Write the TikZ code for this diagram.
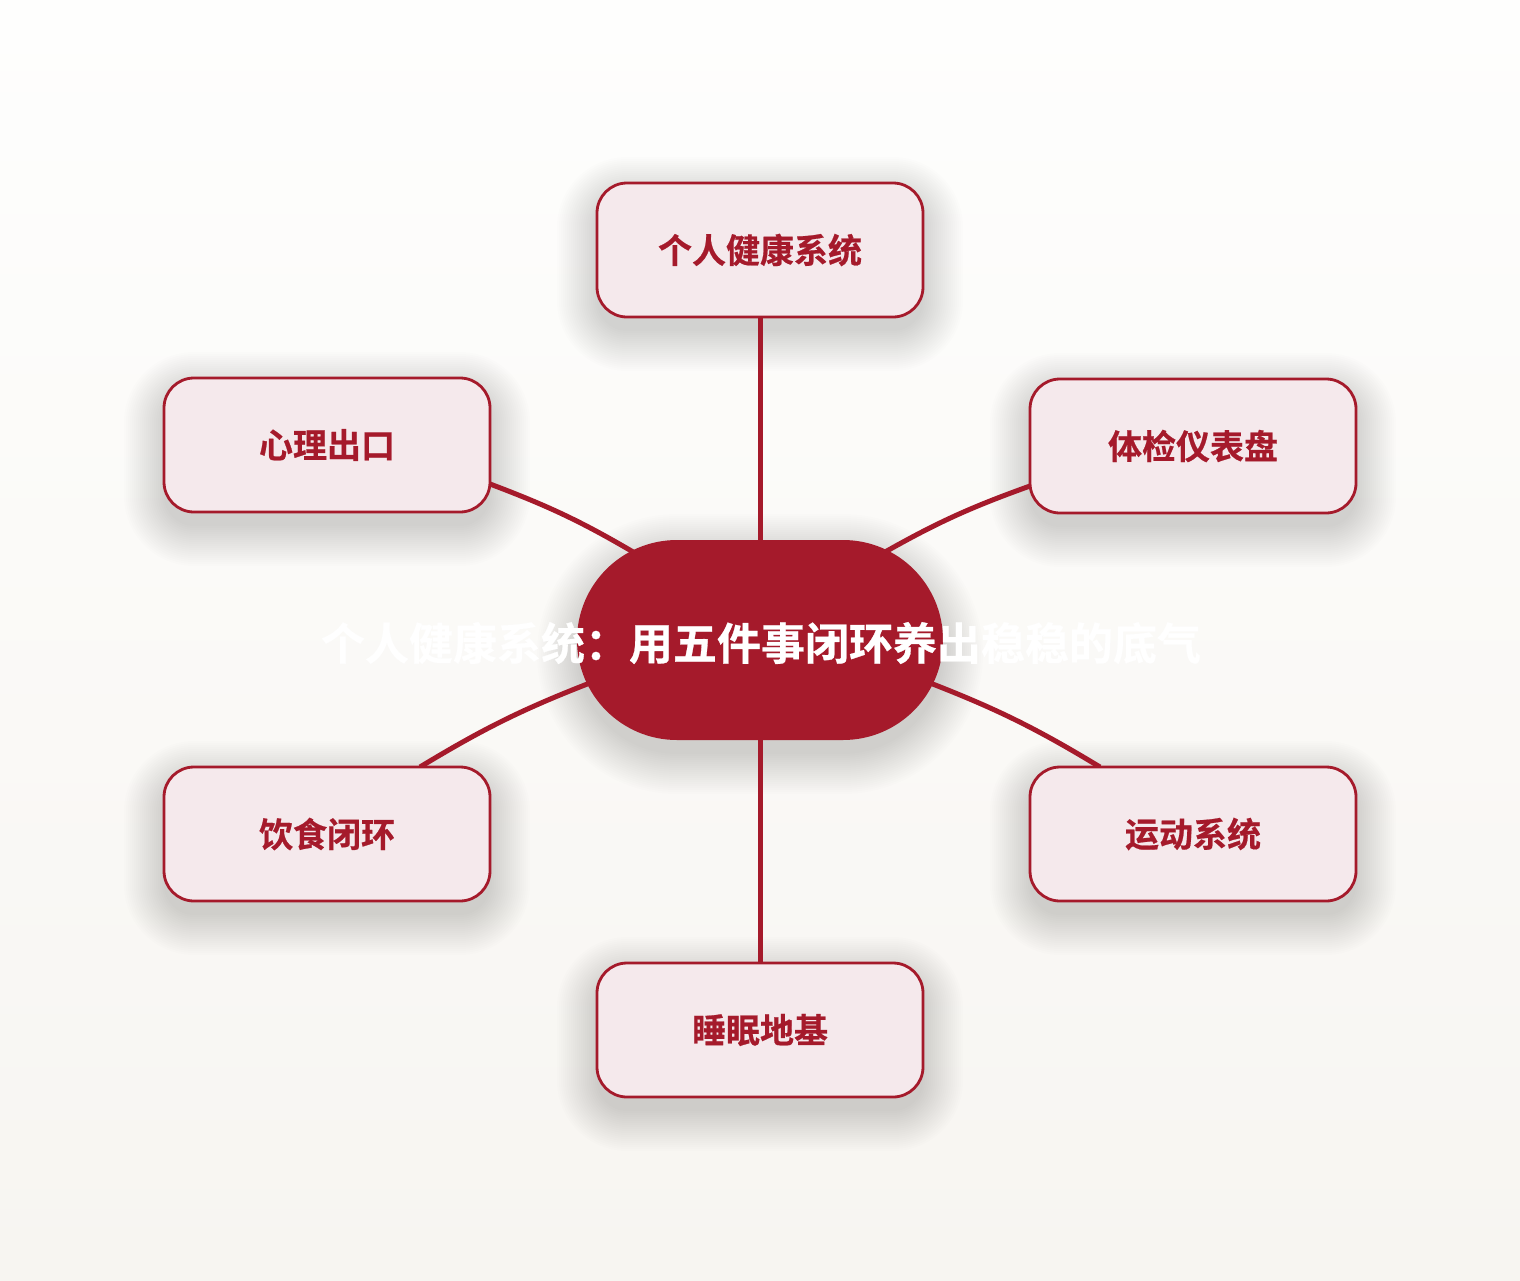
\documentclass[tikz,border=0pt]{standalone}
\usepackage{fontspec}
\setmainfont{Noto Sans CJK SC}
\newfontfamily\cjkb[FakeBold=0.6]{Noto Sans CJK SC Bold}
\usetikzlibrary{calc}
\definecolor{dred}{HTML}{A51A2B}
\definecolor{pinkfill}{HTML}{F5E9EC}
\definecolor{bgtop}{HTML}{FEFEFD}
\definecolor{bgbot}{HTML}{F7F5F1}
\tikzset{
  leaf/.style={draw=dred, line width=2.8pt, fill=pinkfill, rounded corners=30pt,
    minimum width=326pt, minimum height=134pt, inner sep=0pt,
    text=dred, font=\cjkb\fontsize{34}{40}\selectfont},
  hub/.style={fill=dred, rounded corners=100pt, minimum width=366pt, minimum height=200pt,
    inner sep=0pt},
  shlayer/.style={fill=black, fill opacity=0.009, draw=none, inner sep=0pt},
  conn/.style={draw=dred, line width=5pt},
  title/.style={text=white, font=\cjkb\fontsize{44}{50}\selectfont, inner sep=0pt}
}
\newcommand\softshadow[4]{%
  \foreach \e in {0,2,...,40}{%
    \node[shlayer, rounded corners={#4+\e}, minimum width={#2+2*\e}, minimum height={#3+2*\e}]
      at ($(#1)+(0,-14)$) {};}}
\begin{document}
\begin{tikzpicture}[x=1pt,y=1pt]
\shade[top color=bgtop, bottom color=bgbot] (0,0) rectangle (1520,-1280);
\useasboundingbox (0,0) rectangle (1520,-1280);
\coordinate (cc) at (760,-640);
\coordinate (top) at (760,-250);
\coordinate (ul) at (327,-445);
\coordinate (ur) at (1193,-446);
\coordinate (ll) at (327,-834);
\coordinate (lr) at (1193,-834);
\coordinate (bot) at (760,-1030);
% shadows
\softshadow{top}{326}{134}{30}
\softshadow{ul}{326}{134}{30}
\softshadow{ur}{326}{134}{30}
\softshadow{ll}{326}{134}{30}
\softshadow{lr}{326}{134}{30}
\softshadow{bot}{326}{134}{30}
\softshadow{cc}{366}{200}{100}
% connectors
\draw[conn] (760,-317) -- (760,-560);
\draw[conn] (760,-720) -- (760,-963);
\draw[conn] (490,-484) to[bend left=5] (640,-556);
\draw[conn] (1030,-486) to[bend right=5] (878,-556);
\draw[conn] (420,-767) to[bend left=5] (595,-681);
\draw[conn] (1100,-767) to[bend right=5] (925,-681);
% hub
\node[hub] (c) at (cc) {};
% leaves
\node[leaf] (n1) at (top) {个人健康系统};
\node[leaf] (n2) at (ul) {心理出口};
\node[leaf] (n3) at (ur) {体检仪表盘};
\node[leaf] (n4) at (ll) {饮食闭环};
\node[leaf] (n5) at (lr) {运动系统};
\node[leaf] (n6) at (bot) {睡眠地基};
% title
\node[title] (t) at (761,-643) {个人健康系统：用五件事闭环养出稳稳的底气};
\end{tikzpicture}
\end{document}
